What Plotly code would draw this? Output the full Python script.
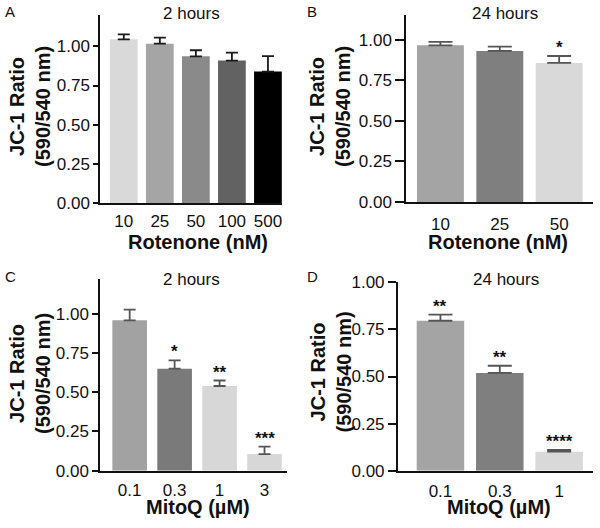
import plotly.graph_objects as go

# ---------------- data ----------------
rot2h_cats = ["10", "25", "50", "100", "500"]
rot2h_vals = [1.045, 1.017, 0.936, 0.909, 0.839]
rot2h_errtop = [1.076, 1.055, 0.975, 0.960, 0.938]
rot2h_colors = ["#d9d9d9", "#a5a5a5", "#8a8a8a", "#626262", "#000000"]

rot24h_cats = ["10", "25", "50"]
rot24h_vals = [0.967, 0.932, 0.858]
rot24h_errtop = [0.988, 0.959, 0.901]
rot24h_colors = ["#a4a4a4", "#7f7f7f", "#d9d9d9"]
rot24h_sig = ["", "", "*"]

mito2h_cats = ["0.1", "0.3", "1", "3"]
mito2h_vals = [0.957, 0.649, 0.539, 0.106]
mito2h_errtop = [1.025, 0.702, 0.574, 0.153]
mito2h_colors = ["#a2a2a2", "#7a7a7a", "#d7d7d7", "#d7d7d7"]
mito2h_sig = ["", "*", "**", "***"]

mito24h_cats = ["0.1", "0.3", "1"]
mito24h_vals = [0.796, 0.519, 0.101]
mito24h_errtop = [0.828, 0.557, 0.110]
mito24h_colors = ["#a4a4a4", "#7f7f7f", "#d9d9d9"]
mito24h_sig = ["**", "**", "****"]

y_ticks = [0.0, 0.25, 0.5, 0.75, 1.0]
y_ticktext = ["0.00", "0.25", "0.50", "0.75", "1.00"]

FONT = "Liberation Sans, Arial, sans-serif"
W, H = 600, 528

def px(x):
    return x / W

def py(y):
    return 1 - y / H

panels = [
    dict(cats=rot2h_cats, vals=rot2h_vals, errtop=rot2h_errtop, colors=rot2h_colors, sig=None,
         xd=(100, 282), yd=(203, 15), yr=[0, 1.2], xr=[-0.66, 4.39], bw=0.77, ylen=5, xlen=2,
         ec="#1a1a1a", cw=6, letter="A", title="2 hours", title_xy=(191.7, 13.5),
         xtitle="Rotenone (nM)", xt_xy=(197.5, 242), yt_x=30, yt_y=107, let_xy=(10, 12)),
    dict(cats=rot24h_cats, vals=rot24h_vals, errtop=rot24h_errtop, colors=rot24h_colors, sig=rot24h_sig,
         xd=(406, 593), yd=(202, 15), yr=[0, 1.154], xr=[-0.58, 2.57], bw=0.79, ylen=9, xlen=6,
         ec="#555555", cw=12, letter="B", title="24 hours", title_xy=(505, 13.5),
         xtitle="Rotenone (nM)", xt_xy=(498, 242), yt_x=330, yt_y=107, let_xy=(312, 12)),
    dict(cats=mito2h_cats, vals=mito2h_vals, errtop=mito2h_errtop, colors=mito2h_colors, sig=mito2h_sig,
         xd=(100, 287), yd=(470.7, 279), yr=[0, 1.22], xr=[-0.66, 3.5], bw=0.77, ylen=6, xlen=3,
         ec="#555555", cw=6, letter="C", title="2 hours", title_xy=(191.7, 279),
         xtitle="MitoQ (µM)", xt_xy=(197.5, 507), yt_x=30, yt_y=374, let_xy=(10, 276)),
    dict(cats=mito24h_cats, vals=mito24h_vals, errtop=mito24h_errtop, colors=mito24h_colors, sig=mito24h_sig,
         xd=(397.7, 593), yd=(470.7, 282.3), yr=[0, 1.0], xr=[-0.72, 2.57], bw=0.8, ylen=8, xlen=4,
         ec="#555555", cw=12, letter="D", title="24 hours", title_xy=(505.7, 279),
         xtitle="MitoQ (µM)", xt_xy=(499, 507), yt_x=330, yt_y=372.5, let_xy=(312, 276)),
]

fig = go.Figure()
layout = dict(
    width=W, height=H, margin=dict(l=0, r=0, t=0, b=0, autoexpand=False),
    paper_bgcolor="white", plot_bgcolor="white", showlegend=False,
    font=dict(family=FONT, color="#111111"),
    bargap=0.2,
)
annotations = []

for i, p in enumerate(panels):
    n = "" if i == 0 else str(i + 1)
    xa, ya = "x" + n, "y" + n
    minus = [0.0] * len(p["vals"])
    plus = [t - v for t, v in zip(p["errtop"], p["vals"])]
    fig.add_trace(go.Bar(
        x=p["cats"], y=p["vals"], xaxis=xa, yaxis=ya,
        marker=dict(color=p["colors"], line=dict(width=0)),
        width=[p["bw"]] * len(p["vals"]),
        error_y=dict(type="data", symmetric=False, array=plus, arrayminus=minus,
                     color=p["ec"], thickness=1.8, width=p["cw"]),
    ))
    layout["xaxis" + n] = dict(
        domain=[px(p["xd"][0]), px(p["xd"][1])], anchor=ya, automargin=False,
        type="category", range=p["xr"], showline=True, linecolor="#111111", linewidth=2,
        ticks="outside", ticklen=p["xlen"], tickcolor="rgba(0,0,0,0)",
        tickfont=dict(size=17, family=FONT, color="#111111"),
        showgrid=False, zeroline=False, fixedrange=True,
    )
    layout["yaxis" + n] = dict(
        domain=[py(p["yd"][0]), py(p["yd"][1])], anchor=xa, automargin=False,
        range=p["yr"], tickvals=y_ticks, ticktext=y_ticktext,
        showline=True, linecolor="#111111", linewidth=1.5,
        ticks="outside", ticklen=p["ylen"], tickwidth=1.5, tickcolor="#111111",
        tickfont=dict(size=17, family=FONT, color="#111111"),
        showgrid=False, zeroline=False, fixedrange=True,
    )
    annotations.append(dict(text=p["title"], x=px(p["title_xy"][0]), y=py(p["title_xy"][1]),
                            xref="paper", yref="paper", showarrow=False,
                            xanchor="center", yanchor="middle",
                            font=dict(size=17, family=FONT, color="#111111")))
    annotations.append(dict(text=p["letter"], x=px(p["let_xy"][0]), y=py(p["let_xy"][1]),
                            xref="paper", yref="paper", showarrow=False,
                            xanchor="center", yanchor="middle",
                            font=dict(size=15, family=FONT, color="#111111")))
    annotations.append(dict(text="<b>" + p["xtitle"] + "</b>", x=px(p["xt_xy"][0]), y=py(p["xt_xy"][1]),
                            xref="paper", yref="paper", showarrow=False,
                            xanchor="center", yanchor="middle",
                            font=dict(size=20, family=FONT, color="#111111")))
    annotations.append(dict(text="<b>JC-1 Ratio</b><br><b>(590/540 nm)</b>",
                            x=px(p["yt_x"]), y=py(p["yt_y"]),
                            xref="paper", yref="paper", showarrow=False, textangle=-90,
                            xanchor="center", yanchor="middle",
                            font=dict(size=20, family=FONT, color="#111111")))
    if p["sig"]:
        for k, (t, s) in enumerate(zip(p["errtop"], p["sig"])):
            if s:
                annotations.append(dict(text="<b>" + s + "</b>", x=k, y=t, xref=xa, yref=ya,
                                        showarrow=False, xanchor="center", yanchor="bottom",
                                        yshift=-3,
                                        font=dict(size=17, family=FONT, color="#111111")))

layout["annotations"] = annotations
fig.update_layout(**layout)
fig.write_html("out.html", config={"displayModeBar": False},
               post_script="document.body.style.margin='0px';")
